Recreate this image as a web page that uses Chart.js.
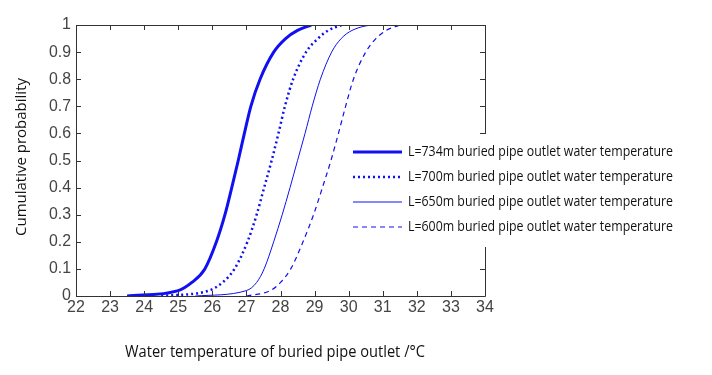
<!DOCTYPE html>
<html lang="en">
<head>
<meta charset="UTF-8">
<title>Cumulative probability of outlet water temperature</title>
<script src="https://cdn.jsdelivr.net/npm/chart.js"></script>
<style>
    html, body { margin: 0; padding: 0; background: #fff; }
    #wrap { width: 712px; height: 375px; }
</style>
</head>
<body>
<div id="wrap"><canvas id="myChart" width="712" height="375"></canvas></div>
<script>
// cumulative probability levels shared by all curves
const probLevels = [0, 0.02, 0.05, 0.1, 0.2, 0.3, 0.4, 0.5, 0.6, 0.7, 0.8, 0.9, 0.95, 0.98, 1];
// water temperature (deg C) at each probability level
const temp734 = [23.5, 25.0, 25.4, 25.78, 26.12, 26.37, 26.57, 26.76, 26.94, 27.13, 27.4, 27.8, 28.15, 28.5, 28.9];
const temp700 = [24.5, 25.9, 26.3, 26.65, 27.03, 27.3, 27.52, 27.74, 27.94, 28.13, 28.37, 28.75, 29.1, 29.4, 29.8];
const temp650 = [25.5, 27.0, 27.3, 27.52, 27.8, 28.05, 28.28, 28.5, 28.72, 28.93, 29.17, 29.5, 29.78, 30.1, 30.8];
const temp600 = [27.0, 27.7, 28.0, 28.3, 28.66, 28.97, 29.23, 29.48, 29.7, 29.91, 30.14, 30.5, 30.8, 31.1, 31.5];
const seriesNames = [
    'L=734m buried pipe outlet water temperature',
    'L=700m buried pipe outlet water temperature',
    'L=650m buried pipe outlet water temperature',
    'L=600m buried pipe outlet water temperature'
];
const xTicks = [22, 23, 24, 25, 26, 27, 28, 29, 30, 31, 32, 33, 34];
const yTicks = [0, 0.1, 0.2, 0.3, 0.4, 0.5, 0.6, 0.7, 0.8, 0.9, 1];
const yTickLabels = ['0', '0.1', '0.2', '0.3', '0.4', '0.5', '0.6', '0.7', '0.8', '0.9', '1'];

function pts(temps) {
    return temps.map((t, i) => ({ x: t, y: probLevels[i] }));
}

const blue = '#1010f0';

// axes box, inward ticks, tick labels, titles and the legend
const matlabAxes = {
    id: 'matlabAxes',
    afterDatasetsDraw(chart) {
        const ctx = chart.ctx;
        const a = chart.chartArea;
        const xs = chart.scales.x, ys = chart.scales.y;
        ctx.save();
        ctx.strokeStyle = '#333';
        ctx.lineWidth = 1;
        ctx.beginPath();
        ctx.rect(a.left + 0.5, a.top + 0.5, a.right - a.left, a.bottom - a.top);
        xTicks.forEach(v => {
            const px = Math.round(xs.getPixelForValue(v)) + 0.5;
            ctx.moveTo(px, a.bottom); ctx.lineTo(px, a.bottom - 5);
            ctx.moveTo(px, a.top); ctx.lineTo(px, a.top + 5);
        });
        yTicks.forEach(v => {
            const py = Math.round(ys.getPixelForValue(v)) + 0.5;
            ctx.moveTo(a.left, py); ctx.lineTo(a.left + 5, py);
            ctx.moveTo(a.right, py); ctx.lineTo(a.right - 5, py);
        });
        ctx.stroke();

        ctx.fillStyle = '#444';
        ctx.font = '16px "Liberation Sans", Arial, sans-serif';
        ctx.textAlign = 'center';
        ctx.textBaseline = 'top';
        xTicks.forEach(v => {
            ctx.fillText(String(v), xs.getPixelForValue(v), a.bottom + 4, 18);
        });
        ctx.textAlign = 'right';
        ctx.textBaseline = 'middle';
        yTicks.forEach((v, i) => {
            ctx.fillText(yTickLabels[i], a.left - 5, ys.getPixelForValue(v), 22);
        });

        ctx.fillStyle = '#111';
        ctx.font = '17px "Open Sans", sans-serif';
        ctx.textAlign = 'center';
        ctx.textBaseline = 'middle';
        ctx.fillText('Water temperature of buried pipe outlet /\u00b0C', 275, 352, 300);

        ctx.save();
        ctx.translate(22, 157);
        ctx.rotate(-Math.PI / 2);
        ctx.font = '15px "Open Sans", sans-serif';
        ctx.fillText('Cumulative probability', 0, 0, 196);
        ctx.restore();

        // legend (covers part of the right axis, like the original)
        ctx.fillStyle = '#fff';
        ctx.fillRect(350, 134, 345, 113);
        const rows = [152, 177, 202, 227];
        chart.data.datasets.forEach((ds, i) => {
            ctx.strokeStyle = ds.borderColor;
            ctx.lineWidth = ds.borderWidth;
            ctx.setLineDash(ds.borderDash || []);
            ctx.beginPath();
            ctx.moveTo(353, rows[i]);
            ctx.lineTo(402, rows[i]);
            ctx.stroke();
            ctx.setLineDash([]);
            ctx.fillStyle = '#111';
            ctx.font = '15px "Open Sans", sans-serif';
            ctx.textAlign = 'left';
            ctx.fillText(ds.label, 408, rows[i], 265);
        });
        ctx.restore();
    }
};

new Chart(document.getElementById('myChart'), {
    type: 'line',
    data: {
        datasets: [
            { label: seriesNames[0], data: pts(temp734), borderColor: blue, borderWidth: 3 },
            { label: seriesNames[1], data: pts(temp700), borderColor: blue, borderWidth: 2.5, borderDash: [2, 3] },
            { label: seriesNames[2], data: pts(temp650).concat([{ x: 32.4, y: 1 }]), borderColor: blue, borderWidth: 1 },
            { label: seriesNames[3], data: pts(temp600), borderColor: blue, borderWidth: 1.2, borderDash: [5, 4] }
        ]
    },
    options: {
        responsive: false,
        animation: false,
        layout: { padding: { left: 76, right: 227, top: 25, bottom: 79 } },
        elements: {
            point: { radius: 0 },
            line: { cubicInterpolationMode: 'monotone', fill: false }
        },
        scales: {
            x: { type: 'linear', min: 22, max: 34, display: false },
            y: { type: 'linear', min: 0, max: 1, display: false }
        },
        plugins: {
            legend: { display: false },
            tooltip: { enabled: false }
        }
    },
    plugins: [matlabAxes]
});
</script>
</body>
</html>
